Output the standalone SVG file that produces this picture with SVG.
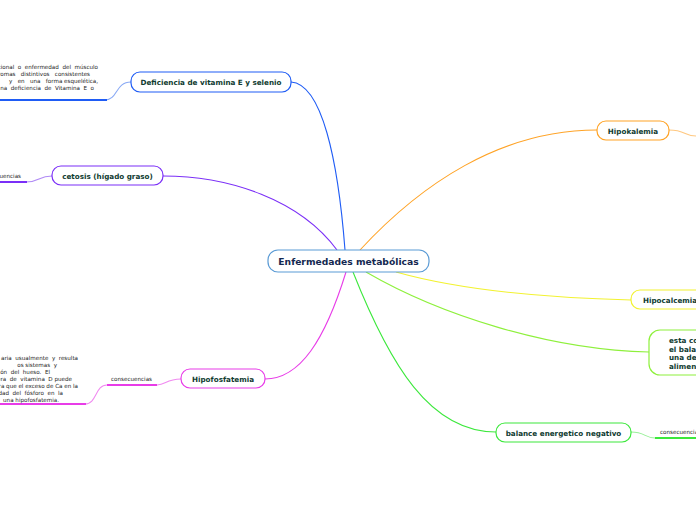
<svg xmlns="http://www.w3.org/2000/svg" width="696" height="520" viewBox="0 0 696 520">
<style>
.n{fill:#fff;stroke-width:1.2}
.t{font-family:"DejaVu Sans",Verdana,sans-serif;font-weight:bold;font-size:7.2px;fill:#0f3b30}
.s{font-family:"DejaVu Sans",Verdana,sans-serif;font-size:5.6px;fill:#222;white-space:pre}
.c{fill:none;stroke-width:1.1}
.u{fill:none;stroke-width:2}
</style>
<rect width="696" height="520" fill="#fff"/>
<g id="connectors">
<path class="c" stroke="#1f5cf5" d="M345,250 C338,160 322,84 291,82"/>
<path class="c" stroke="#7b2ff7" d="M337,250 C300,200 230,176 163,176"/>
<path class="c" stroke="#e83ce8" d="M346,272 C325,340 300,379 265,379"/>
<path class="c" stroke="#ffa326" d="M360,250 C420,185 500,130 597,130"/>
<path class="c" stroke="#f2f230" d="M396,272 C460,290 550,298 631,300"/>
<path class="c" stroke="#8ef03c" d="M366,272 C440,315 550,350 649,352"/>
<path class="c" stroke="#3ce83c" d="M353,272 C390,365 430,432 496,432"/>
<path class="c" stroke="#8aaaf5" d="M131,82 C115,82 118,100 105,100"/>
<path class="u" stroke="#1f5cf5" d="M0,100 L107,100"/>
<path class="c" stroke="#b08af5" d="M52,176 C38,176 40,182 26,182"/>
<path class="u" stroke="#7b2ff7" d="M0,182 L27,182"/>
<path class="c" stroke="#f08af0" d="M181,379 C166,379 166,385 157,385"/>
<path class="u" stroke="#e83ce8" d="M107,385 L157,385"/>
<path class="c" stroke="#f08af0" d="M107,385 C95,385 97,404 85,404"/>
<path class="u" stroke="#e83ce8" d="M0,404 L86,404"/>
<path class="c" stroke="#ffc880" d="M669,130 C685,130 685,136 696,136"/>
<path class="c" stroke="#9af09a" d="M631,432 C645,432 645,438 655,438"/>
<path class="u" stroke="#3ce83c" d="M655,438 L696,438"/>
</g>
<g id="central">
<rect class="n" x="268" y="250" width="161" height="22" rx="10" stroke="#5b9bd5"/>
<text x="348.5" y="264.5" text-anchor="middle" style="font-family:'DejaVu Sans',Verdana,sans-serif;font-weight:bold;font-size:9.2px;fill:#142850">Enfermedades metabólicas</text>
</g>
<g id="deficiencia">
<rect class="n" x="131" y="72" width="160" height="20" rx="9" stroke="#1f5cf5"/>
<text class="t" x="211" y="85" text-anchor="middle">Deficiencia de vitamina E y selenio</text>
</g>
<g id="deficiencia-text" xml:space="preserve">
<text class="s" x="98" y="69" text-anchor="end">cional  o  enfermedad  del  músculo</text>
<text class="s" x="90" y="76" text-anchor="end">romas   distintivos   consistentes</text>
<text class="s" x="98" y="83" text-anchor="end">y   en   una   forma esquelética,</text>
<text class="s" x="94" y="90" text-anchor="end">na  deficiencia  de  Vitamina  E  o</text>
</g>
<g id="cetosis">
<rect class="n" x="52" y="166" width="111" height="19" rx="9" stroke="#7b2ff7"/>
<text class="t" x="107.5" y="178.5" text-anchor="middle">cetosis (hígado graso)</text>
</g>
<g id="cetosis-cons">
<text class="s" x="21" y="178" text-anchor="end">uencias</text>
</g>
<g id="hipofosfatemia">
<rect class="n" x="181" y="369" width="84" height="19" rx="9" stroke="#e83ce8"/>
<text class="t" x="223" y="381.5" text-anchor="middle">Hipofosfatemia</text>
</g>
<g id="hipofosfatemia-cons">
<text class="s" x="131.5" y="381" text-anchor="middle">consecuencias</text>
</g>
<g id="hipofosfatemia-text" xml:space="preserve">
<text class="s" x="78" y="360" text-anchor="end">aria  usualmente  y  resulta</text>
<text class="s" x="57" y="367" text-anchor="end">os sistemas  y</text>
<text class="s" x="50" y="374" text-anchor="end">ón  del  hueso.  El</text>
<text class="s" x="72" y="381" text-anchor="end">era  de  vitamina  D puede</text>
<text class="s" x="78" y="388" text-anchor="end">ra que el exceso de Ca en la</text>
<text class="s" x="63" y="395" text-anchor="end">dad  del  fósforo  en  la</text>
<text class="s" x="59" y="402" text-anchor="end">r  una hipofosfatemia.</text>
</g>
<g id="hipokalemia">
<rect class="n" x="597" y="121" width="72" height="19" rx="9" stroke="#ffa326"/>
<text class="t" x="633" y="133.5" text-anchor="middle">Hipokalemia</text>
</g>
<g id="hipocalcemia">
<rect class="n" x="631" y="290" width="80" height="19" rx="9" stroke="#f2f230"/>
<text class="t" x="643" y="302.5">Hipocalcemia</text>
</g>
<g id="balance-node">
<rect class="n" x="649" y="330" width="70" height="45" rx="11" stroke="#8ef03c"/>
<text class="t" x="669" y="343">esta co</text>
<text class="t" x="669" y="351.5">el balar</text>
<text class="t" x="669" y="360">una de</text>
<text class="t" x="669" y="368.5">alimenti</text>
</g>
<g id="balance-energetico">
<rect class="n" x="496" y="423" width="135" height="19" rx="9" stroke="#3ce83c"/>
<text class="t" x="563.5" y="435.5" text-anchor="middle">balance energetico negativo</text>
</g>
<g id="balance-cons">
<text class="s" x="660" y="434">consecuencias</text>
</g>
</svg>
